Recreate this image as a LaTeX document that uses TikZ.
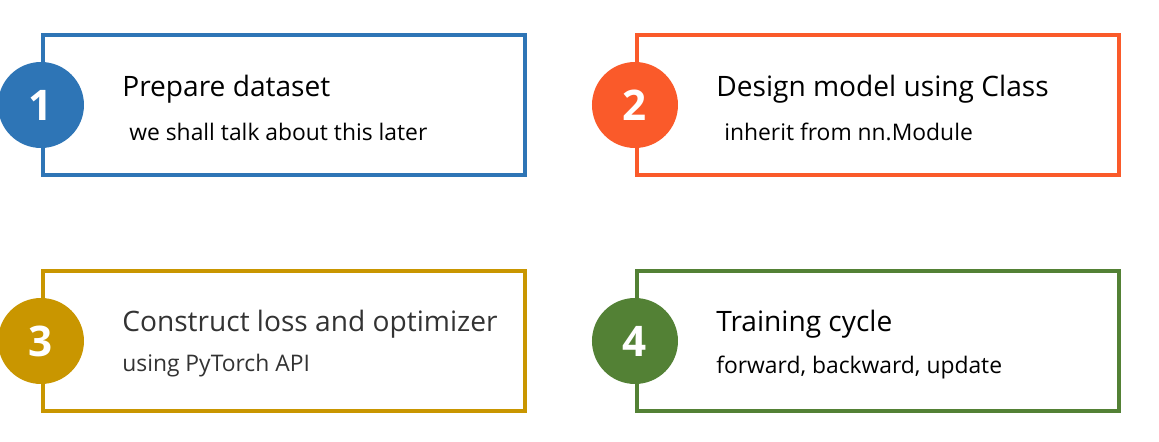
\documentclass[tikz,border=0pt]{standalone}
\usepackage{fontspec}
\setmainfont{Open Sans}
\usetikzlibrary{positioning}
\definecolor{stepblue}{HTML}{2E75B6}
\definecolor{steporange}{HTML}{FA5A2A}
\definecolor{stepgold}{HTML}{C99600}
\definecolor{stepgreen}{HTML}{538135}
\begin{document}
\begin{tikzpicture}[
    stagebox/.style={draw, line width=2.3pt, rectangle, minimum width=9.64cm, minimum height=2.8cm},
    stagenum/.style={circle, minimum size=1.72cm, inner sep=0pt, text=white, font=\fontsize{24}{28}\selectfont\bfseries},
    stagetitle/.style={inner sep=0pt, anchor=west, font=\fontsize{16}{19}\selectfont},
    stagenote/.style={inner sep=0pt, anchor=west, font=\fontsize{13}{15}\selectfont}
]
  \useasboundingbox (0,0) rectangle (23.18,8.84);

  % Upper row
  \node[stagebox, draw=stepblue] (prep) at (5.68,6.74) {};
  \node[stagenum, fill=stepblue] (n1) at (prep.west) {1};
  \node[stagetitle, right=1.62cm of prep.west, yshift=0.31cm] (t1) {Prepare dataset};
  \node[stagenote, right=1.76cm of prep.west, yshift=-0.53cm] (s1) {we shall talk about this later};

  \node[stagebox, draw=steporange] (model) at (17.56,6.74) {};
  \node[stagenum, fill=steporange] (n2) at (model.west) {2};
  \node[stagetitle, right=1.62cm of model.west, yshift=0.31cm] (t2) {Design model using Class};
  \node[stagenote, right=1.78cm of model.west, yshift=-0.53cm] (s2) {inherit from nn.Module};

  % Lower row
  \node[stagebox, draw=stepgold] (loss) at (5.68,2.02) {};
  \node[stagenum, fill=stepgold] (n3) at (loss.west) {3};
  \node[stagetitle, text=black!80, right=1.62cm of loss.west, yshift=0.33cm] (t3) {Construct loss and optimizer};
  \node[stagenote, text=black!80, right=1.62cm of loss.west, yshift=-0.50cm] (s3) {using PyTorch API};

  \node[stagebox, draw=stepgreen] (train) at (17.56,2.02) {};
  \node[stagenum, fill=stepgreen] (n4) at (train.west) {4};
  \node[stagetitle, right=1.62cm of train.west, yshift=0.33cm] (t4) {Training cycle};
  \node[stagenote, right=1.62cm of train.west, yshift=-0.54cm] (s4) {forward, backward, update};
\end{tikzpicture}
\end{document}
